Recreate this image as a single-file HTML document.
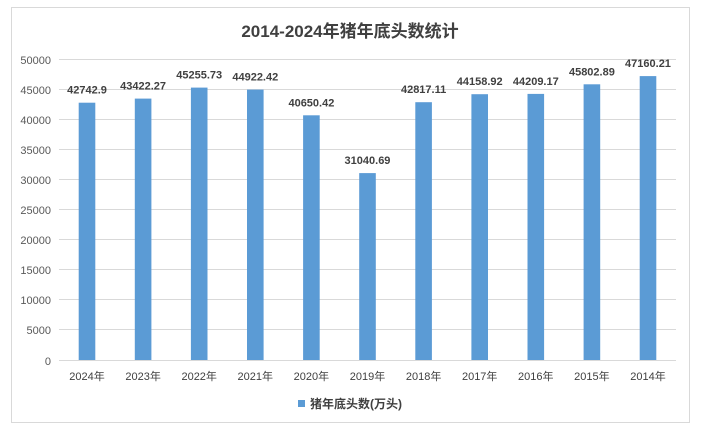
<!DOCTYPE html>
<html><head><meta charset="utf-8"><style>
body{margin:0;background:#fff;}
svg text{font-family:"Liberation Sans","Noto Sans CJK SC",sans-serif;}
</style></head><body>
<svg width="701" height="434" viewBox="0 0 701 434" xmlns="http://www.w3.org/2000/svg">
<rect x="11.5" y="7.5" width="678" height="415" fill="#fff" stroke="#d9d9d9"/>
<text x="350" y="37" text-anchor="middle" font-size="17" font-weight="bold" fill="#404040">2014-2024年猪年底头数统计</text>
<g stroke="#d9d9d9" stroke-width="1">
<line x1="59" x2="676" y1="59.5" y2="59.5"/><line x1="59" x2="676" y1="89.5" y2="89.5"/>
<line x1="59" x2="676" y1="119.5" y2="119.5"/><line x1="59" x2="676" y1="149.5" y2="149.5"/>
<line x1="59" x2="676" y1="179.5" y2="179.5"/><line x1="59" x2="676" y1="209.5" y2="209.5"/>
<line x1="59" x2="676" y1="239.5" y2="239.5"/><line x1="59" x2="676" y1="269.5" y2="269.5"/>
<line x1="59" x2="676" y1="299.5" y2="299.5"/><line x1="59" x2="676" y1="329.5" y2="329.5"/>
<line x1="59" x2="676" y1="360.5" y2="360.5"/>
</g>
<g font-size="11" fill="#595959" text-anchor="end">
<text x="51" y="64">50000</text><text x="51" y="94">45000</text><text x="51" y="124">40000</text>
<text x="51" y="154">35000</text><text x="51" y="184">30000</text><text x="51" y="214">25000</text>
<text x="51" y="244">20000</text><text x="51" y="274">15000</text><text x="51" y="304">10000</text>
<text x="51" y="334">5000</text><text x="51" y="365">0</text>
</g>
<g fill="#5b9bd5">
<rect x="78.7" y="102.7" width="16.6" height="257.3"/>
<rect x="134.8" y="98.6" width="16.6" height="261.4"/>
<rect x="190.9" y="87.6" width="16.6" height="272.4"/>
<rect x="247.0" y="89.6" width="16.6" height="270.4"/>
<rect x="303.1" y="115.3" width="16.6" height="244.7"/>
<rect x="359.2" y="173.1" width="16.6" height="186.9"/>
<rect x="415.3" y="102.2" width="16.6" height="257.8"/>
<rect x="471.4" y="94.2" width="16.6" height="265.8"/>
<rect x="527.5" y="93.9" width="16.6" height="266.1"/>
<rect x="583.6" y="84.3" width="16.6" height="275.7"/>
<rect x="639.7" y="76.1" width="16.6" height="283.9"/>
</g>
<g font-size="11" font-weight="bold" fill="#404040" text-anchor="middle">
<text x="87" y="93.7">42742.9</text>
<text x="143.1" y="89.6">43422.27</text>
<text x="199.2" y="78.6">45255.73</text>
<text x="255.3" y="80.6">44922.42</text>
<text x="311.4" y="106.3">40650.42</text>
<text x="367.5" y="164.1">31040.69</text>
<text x="423.6" y="93.2">42817.11</text>
<text x="479.7" y="85.2">44158.92</text>
<text x="535.8" y="84.9">44209.17</text>
<text x="591.9" y="75.3">45802.89</text>
<text x="648" y="67.1">47160.21</text>
</g>
<g font-size="11" fill="#404040" text-anchor="middle">
<text x="87" y="380">2024年</text><text x="143.1" y="380">2023年</text><text x="199.2" y="380">2022年</text>
<text x="255.3" y="380">2021年</text><text x="311.4" y="380">2020年</text><text x="367.5" y="380">2019年</text>
<text x="423.6" y="380">2018年</text><text x="479.7" y="380">2017年</text><text x="535.8" y="380">2016年</text>
<text x="591.9" y="380">2015年</text><text x="648" y="380">2014年</text>
</g>
<rect x="298" y="400" width="7" height="7" fill="#5b9bd5"/>
<text x="310" y="408" font-size="12" font-weight="bold" fill="#404040">猪年底头数(万头)</text>
</svg>
</body></html>
